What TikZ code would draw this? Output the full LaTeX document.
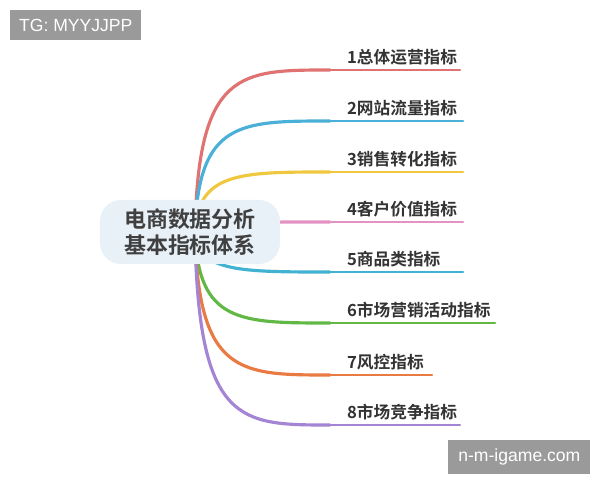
\documentclass[tikz,border=0pt]{standalone}
\usepackage{fontspec}
\newfontfamily\cjk{Noto Sans CJK SC}
\newfontfamily\cjkb{Noto Sans CJK SC Bold}
\setmainfont{Liberation Sans}
\definecolor{cred}{HTML}{E07272}
\definecolor{cblue}{HTML}{4AB0D8}
\definecolor{cyellow}{HTML}{F0C840}
\definecolor{cpink}{HTML}{E492C4}
\definecolor{cteal}{HTML}{42B2D2}
\definecolor{cgreen}{HTML}{62B844}
\definecolor{corange}{HTML}{E87A42}
\definecolor{cpurple}{HTML}{A484D4}
\definecolor{hubfill}{HTML}{E8F0F8}
\definecolor{wmgray}{HTML}{9A9A9A}
\newdimen\pgfxu \pgfxu=0.02cm
\tikzset{
  hub/.style = {rectangle, rounded corners=12pt, fill=hubfill, minimum width=180\pgfxu, minimum height=64\pgfxu, align=center, font=\cjkb\fontsize{12.5pt}{15pt}\selectfont, text=black!75},
  leaf/.style = {anchor=south west, inner sep=1pt, font=\cjkb\fontsize{9.5pt}{11pt}\selectfont, text=black!80},
  branch/.style = {line width=1.8pt, line cap=round},
  stem/.style = {line width=1.2pt, line cap=round},
  mark box/.style = {fill=wmgray, text=white, font=\fontsize{10pt}{12pt}\selectfont, inner sep=5pt}
}
\begin{document}
\begin{tikzpicture}[x=0.02cm, y=-0.02cm]
\useasboundingbox (0,0) rectangle (600,480);
\fill[white] (0,0) rectangle (600,480);

% branches first, hub on top
\foreach \ypos/\xend/\col [count=\i] in {70/460/cred, 121/463/cblue, 172/463/cyellow, 222/463/cpink, 272/463/cteal, 323/495/cgreen, 375/432/corange, 425/460/cpurple} {
  \coordinate (s\i) at (195,232);
  \coordinate (e\i) at (330,\ypos);
  \coordinate (f\i) at (\xend,\ypos);
  \draw[branch, \col] (s\i) .. controls (198,\ypos) and (240,\ypos) .. (e\i);
  \draw[stem, \col] (e\i) -- (f\i);
}

\node (hub) [hub] at (190,232) {电商数据分析\\基本指标体系};

\node (l1) [leaf] at (345,67) {1总体运营指标};
\node (l2) [leaf] at (345,118) {2网站流量指标};
\node (l3) [leaf] at (345,169) {3销售转化指标};
\node (l4) [leaf] at (345,219) {4客户价值指标};
\node (l5) [leaf] at (345,269) {5商品类指标};
\node (l6) [leaf] at (345,320) {6市场营销活动指标};
\node (l7) [leaf] at (345,372) {7风控指标};
\node (l8) [leaf] at (345,422) {8市场竞争指标};

% watermarks
\node (wm1) [mark box, anchor=north west, minimum width=125\pgfxu, minimum height=30\pgfxu] at (10,10) {TG: MYYJJPP};
\node (wm2) [mark box, anchor=north west, minimum width=142\pgfxu, minimum height=30\pgfxu] at (448,440) {n-m-igame.com};
\end{tikzpicture}
\end{document}
